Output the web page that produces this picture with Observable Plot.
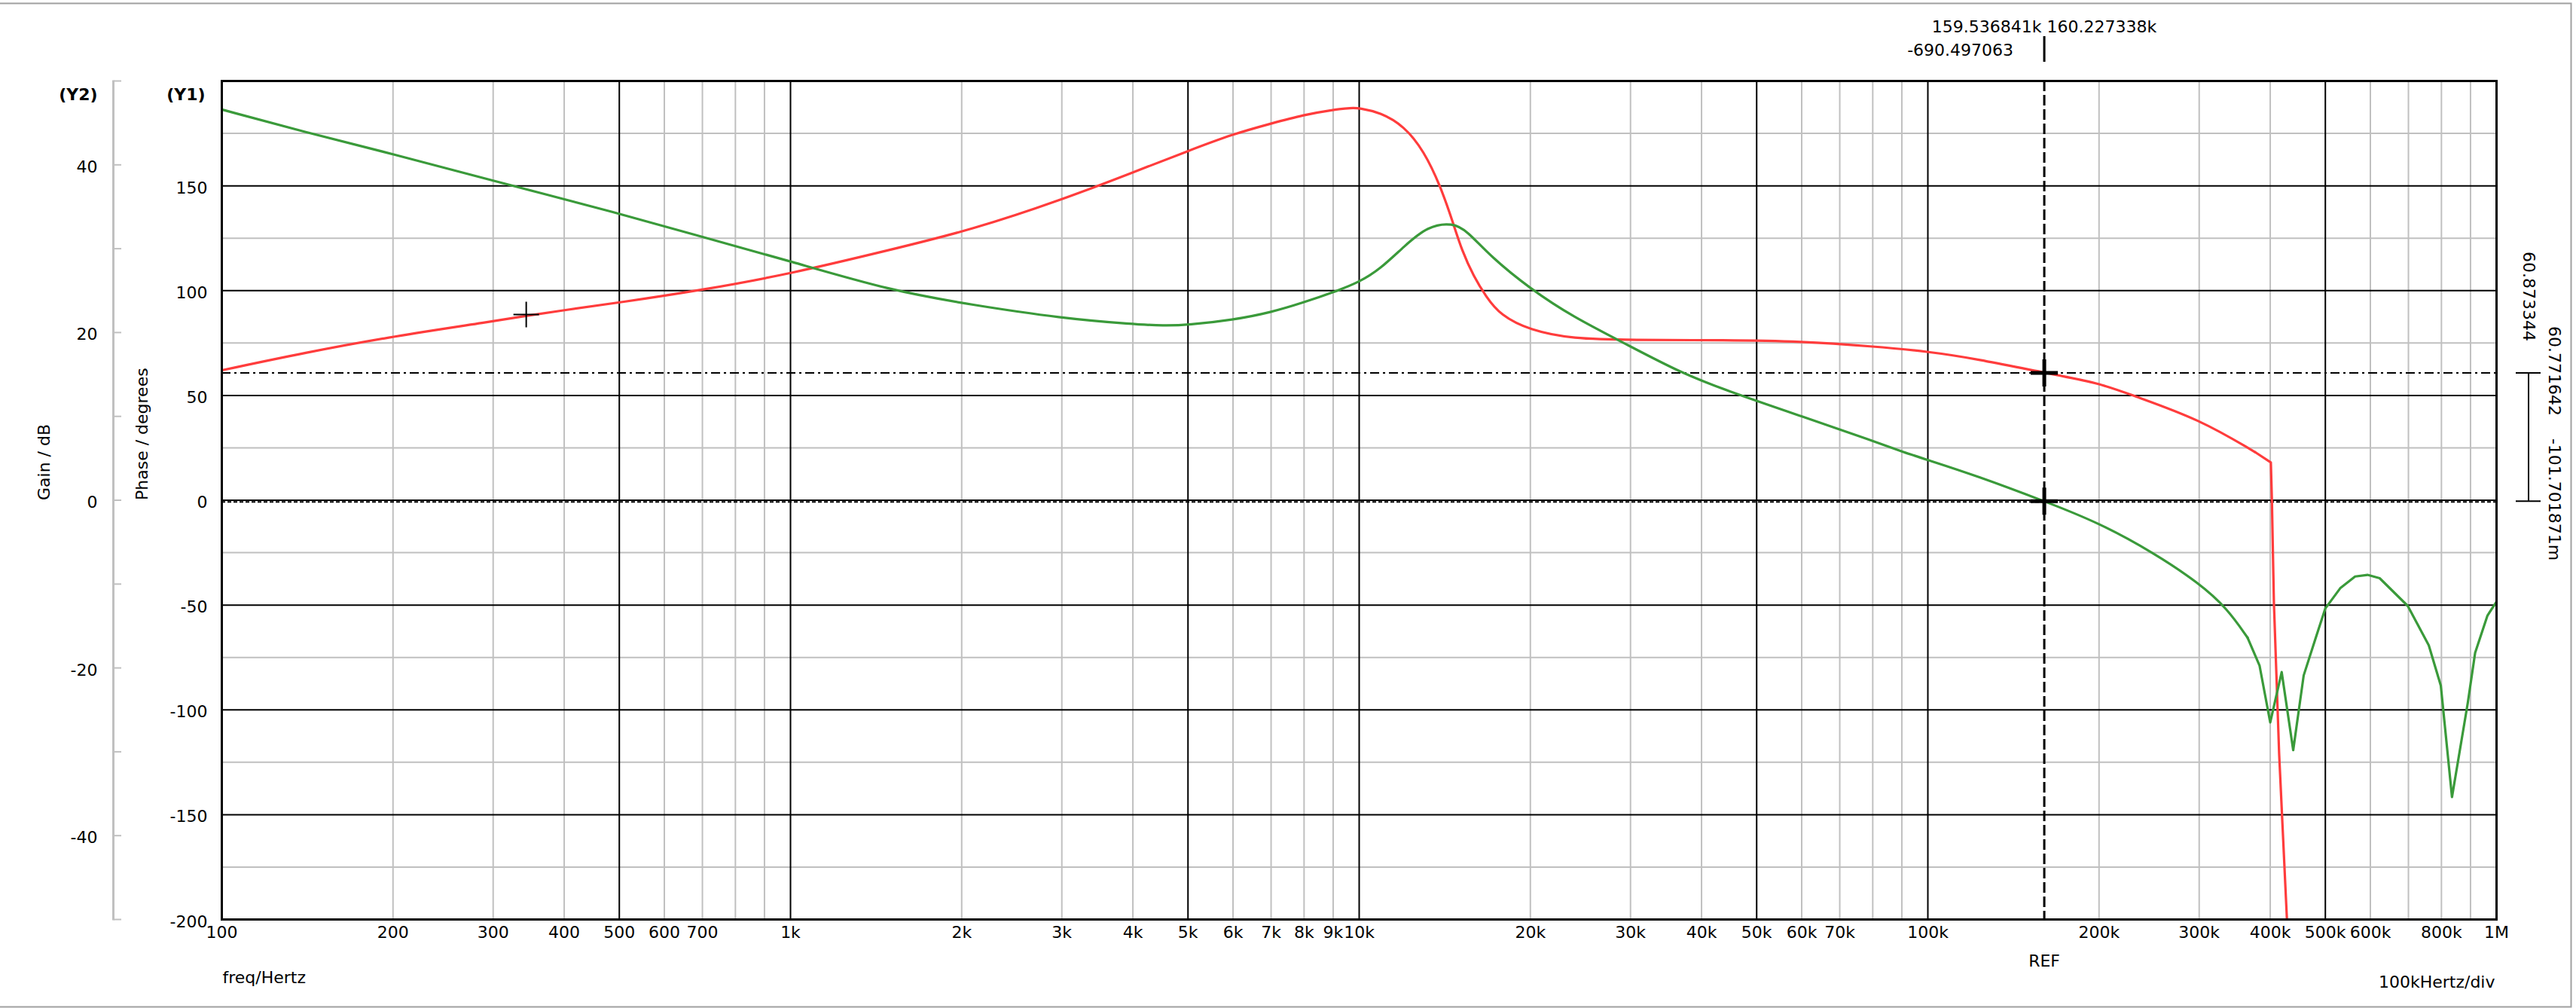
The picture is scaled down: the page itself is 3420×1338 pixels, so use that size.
<!DOCTYPE html>
<html><head><meta charset="utf-8">
<script src="https://cdn.jsdelivr.net/npm/d3@7"></script>
<script src="https://cdn.jsdelivr.net/npm/@observablehq/plot@0.6"></script>
<style>html,body{margin:0;padding:0;background:#fff;} #chart svg{display:block;}</style>
</head><body><div id="chart"></div>
<script>
// ---- data ----
const phaseFreq = [100, 140, 200, 300, 343, 400, 500, 700, 1000, 1500, 2084, 3000, 4000, 5000, 6000, 7000, 8000, 9000, 9700, 10000, 10900, 12000, 13000, 13900, 14600, 15170, 15900, 16700, 17700, 20000, 23700, 30000, 44100, 60000, 80000, 100000, 122000, 160227, 200000, 229000, 300000, 376000, 401000, 402700, 406000, 414700, 420700, 428000];
const phaseDeg  = [62.0, 70.4, 78.2, 85.3, 88.0, 90.7, 94.3, 100.3, 108.0, 119.5, 129.0, 143.3, 156.4, 166.6, 174.7, 179.7, 183.9, 186.3, 187.2, 187.1, 185.0, 178.5, 166.6, 149.8, 133.0, 118.8, 106.8, 97.3, 88.3, 81.0, 77.0, 76.4, 76.4, 75.8, 73.4, 71.0, 67.4, 60.8, 56.0, 50.0, 38.7, 23.0, 18.0, 0, -49, -121, -157, -200];

const gainFreq = [100, 140, 200, 300, 500, 700, 1000, 1500, 2084, 3000, 4000, 4540, 5000, 6000, 7000, 8000, 9000, 10000, 10900, 12000, 13200, 14600, 15500, 17000, 20000, 23700, 30000, 36400, 44100, 60000, 80000, 90900, 100000, 122000, 160227, 200000, 250000, 300000, 336000, 365000, 383000, 400000, 419000, 439000, 458000, 481000, 500000, 531000, 564000, 593000, 623000, 698000, 760000, 798000, 835000, 890000, 917000, 964000, 1000000];
const gainDb   = [46.6, 43.9, 41.3, 38.1, 34.2, 31.4, 28.5, 25.0, 23.3, 21.7, 21.0, 20.8, 20.9, 21.5, 22.4, 23.6, 24.8, 26.0, 27.6, 30.3, 32.7, 33.1, 32.1, 29.1, 25.2, 21.9, 18.35, 15.35, 13.1, 10.0, 7.1, 5.7, 4.8, 2.9, -0.10, -2.7, -6.3, -9.9, -12.9, -16.4, -19.7, -26.5, -20.5, -29.8, -20.9, -16.4, -12.9, -10.5, -9.1, -8.9, -9.3, -12.6, -17.3, -22.1, -35.4, -24.2, -18.2, -13.75, -12.1];

// where the curve is drawn straight (sampled) instead of smooth
const phaseSharpFrom = 376000;
const gainSharpFrom = 365000;

// axes / ticks
const xDomain = [100, 1000000];
const phaseDomain = [-200, 200];
const gainDomain = [-50, 50];
const xTickValues = [100,200,300,400,500,600,700,1000,2000,3000,4000,5000,6000,7000,8000,9000,10000,20000,30000,40000,50000,60000,70000,100000,200000,300000,400000,500000,600000,800000,1000000];
const freqMajorGrid = [500,1000,5000,10000,50000,100000,500000];
const freqMinorGrid = [200,300,400,600,700,800,900,2000,3000,4000,6000,7000,8000,9000,20000,30000,40000,60000,70000,80000,90000,200000,300000,400000,600000,700000,800000,900000];
const phaseTickValues = [150,100,50,0,-50,-100,-150,-200];
const phaseMajorGrid = [150,100,50,0,-50,-100,-150];
const phaseMinorGrid = [175,125,75,25,-25,-75,-125,-175];
const gainTickLabels = [40,20,0,-20,-40];
const gainTickMarks = [50,40,30,20,10,0,-10,-20,-30,-40,-50];

// cursors
const cursorFreq = 160227.338;
const cursorPhase = 60.771642;
const cursorGain = -0.101701871;
const cursorAFreq = 343;
const cursorAPhase = 88.6;
const cursorTopLabel = "159.536841k 160.227338k";
const cursorTopLabel2 = "-690.497063";
const cursorDiffLabel = "60.873344";
const cursorPhaseLabel = "60.771642";
const cursorGainLabel = "-101.701871m";

// ---- build ----
const k = (phaseDomain[1] - phaseDomain[0]) / (gainDomain[1] - gainDomain[0]); // gain -> phase-axis units
const phase = phaseFreq.map((f, i) => ({f, v: phaseDeg[i]}));
const gain = gainFreq.map((f, i) => ({f, v: gainDb[i] * k}));
const fmt = f => f >= 1e6 ? (f / 1e6) + "M" : f >= 1000 ? (f / 1000) + "k" : String(f);
const red = "#ff3c3c", green = "#3a9a3a", grey = "#c0c0c0";
const plusSym = {draw(ctx, size) { const r = Math.sqrt(size / Math.PI); ctx.moveTo(-r, 0); ctx.lineTo(r, 0); ctx.moveTo(0, -r); ctx.lineTo(0, r); }};
const T = {text: d => d, lineAnchor: "middle"};

const chart = Plot.plot({
  width: 3420, height: 1338,
  marginLeft: 294, marginRight: 106, marginTop: 107, marginBottom: 118,
  x: {type: "log", domain: xDomain},
  y: {domain: phaseDomain},
  style: {fontFamily: "DejaVu Sans", fontSize: "22px", background: "white", color: "black", overflow: "visible"},
  marks: [
    Plot.frame({stroke: "#a0a0a0", strokeWidth: 2, insetTop: -103, insetLeft: -300, insetRight: -99, insetBottom: -116}),
    Plot.ruleX(freqMinorGrid, {stroke: grey, strokeWidth: 2}),
    Plot.ruleY(phaseMinorGrid, {stroke: grey, strokeWidth: 2}),
    Plot.ruleX(freqMajorGrid, {stroke: "black", strokeWidth: 2}),
    Plot.ruleY(phaseMajorGrid, {stroke: "black", strokeWidth: 2}),
    Plot.ruleY([cursorPhase], {stroke: "black", strokeWidth: 2, strokeDasharray: "12,5,3,5"}),
    Plot.ruleY([cursorGain * k], {stroke: "black", strokeWidth: 2, dy: 1, strokeDasharray: "5,3"}),
    Plot.ruleX([cursorFreq], {stroke: "black", strokeWidth: 3, strokeDasharray: "14,5"}),
    Plot.line(phase.filter(d => d.f <= phaseSharpFrom), {x: "f", y: "v", stroke: red, strokeWidth: 3.2, curve: "basis", clip: true}),
    Plot.line(phase.filter(d => d.f >= phaseSharpFrom), {x: "f", y: "v", stroke: red, strokeWidth: 3.2, curve: "linear", clip: true}),
    Plot.line(gain.filter(d => d.f <= gainSharpFrom), {x: "f", y: "v", stroke: green, strokeWidth: 3.2, curve: "basis", clip: true}),
    Plot.line(gain.filter(d => d.f >= gainSharpFrom), {x: "f", y: "v", stroke: green, strokeWidth: 3.2, curve: "linear", clip: true}),
    Plot.dot([{f: cursorAFreq, v: cursorAPhase}], {x: "f", y: "v", symbol: plusSym, r: 17, stroke: "black", strokeWidth: 2, fill: "none"}),
    Plot.dot([{f: cursorFreq, v: cursorPhase}, {f: cursorFreq, v: cursorGain * k}], {x: "f", y: "v", symbol: plusSym, r: 18, stroke: "black", strokeWidth: 5, fill: "none"}),
    Plot.frame({stroke: "black", strokeWidth: 3}),
    // gain (Y2) axis line and ticks
    Plot.frame({fill: grey, stroke: "none", insetLeft: -145.5, insetRight: 3162.5, insetTop: -1, insetBottom: -1}),
    Plot.axisY(gainTickMarks.map(g => g * k), {anchor: "right", tickSize: 10, stroke: grey, strokeWidth: 2, dx: -3164, tickFormat: () => "", label: null}),
    Plot.axisY(gainTickLabels.map(g => g * k), {anchor: "left", tickSize: 0, tickPadding: 21, dx: -144, dy: 3, tickFormat: d => String(d / k), label: null}),
    // phase (Y1) axis labels
    Plot.axisY(phaseTickValues, {anchor: "left", tickSize: 0, tickPadding: 19, dy: 3, tickFormat: d => String(d), label: null}),
    Plot.axisX(xTickValues, {anchor: "bottom", tickSize: 0, tickPadding: 9, tickFormat: fmt, label: null}),
    // titles
    Plot.text(["(Y1)"], {...T, frameAnchor: "top-left", dx: -22, dy: 18, textAnchor: "end", fontWeight: "bold"}),
    Plot.text(["(Y2)"], {...T, frameAnchor: "top-left", dx: -165, dy: 18, textAnchor: "end", fontWeight: "bold"}),
    Plot.text(["Gain / dB"], {...T, frameAnchor: "left", dx: -236, rotate: -90}),
    Plot.text(["Phase / degrees"], {...T, frameAnchor: "left", dx: -106, rotate: -90}),
    Plot.text(["freq/Hertz"], {...T, frameAnchor: "bottom-left", dx: 1, dy: 77, textAnchor: "start"}),
    Plot.text(["100kHertz/div"], {...T, frameAnchor: "bottom-right", dx: -2, dy: 83, textAnchor: "end"}),
    Plot.text(["REF"], {...T, x: cursorFreq, frameAnchor: "bottom", dy: 55}),
    // cursor readouts
    Plot.ruleX([cursorFreq], {stroke: "black", strokeWidth: 3, insetTop: -59, insetBottom: 1138}),
    Plot.text([cursorTopLabel], {...T, x: cursorFreq, frameAnchor: "top", dy: -72}),
    Plot.text([cursorTopLabel2], {...T, x: cursorFreq, frameAnchor: "top", dy: -41, dx: -41, textAnchor: "end"}),
    Plot.text([cursorDiffLabel], {...T, y: cursorPhase, frameAnchor: "right", dx: 43, dy: -42, rotate: 90, textAnchor: "end"}),
    Plot.text([cursorPhaseLabel], {...T, y: cursorPhase, frameAnchor: "right", dx: 77, dy: -62, rotate: 90, textAnchor: "start"}),
    Plot.text([cursorGainLabel], {...T, y: cursorPhase, frameAnchor: "right", dx: 77, dy: 87, rotate: 90, textAnchor: "start"}),
    Plot.rect([cursorPhase], {y1: cursorGain * k, y2: d => d, fill: "black", insetLeft: 3062, insetRight: -44}),
    Plot.ruleY([cursorGain * k, cursorPhase], {stroke: "black", strokeWidth: 2, insetLeft: 3046, insetRight: -59})
  ]
});
document.getElementById("chart").appendChild(chart);
</script>
</body></html>
